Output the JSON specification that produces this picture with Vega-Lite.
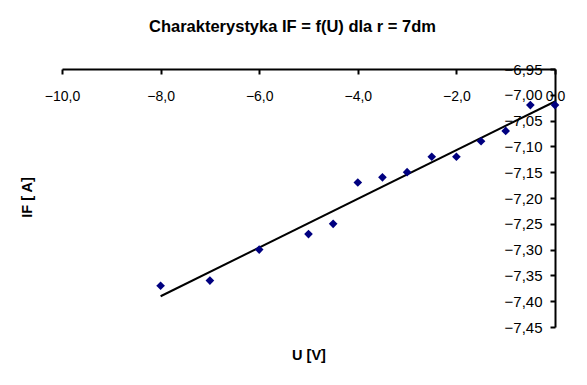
{
  "$schema": "https://vega.github.io/schema/vega-lite/v6.json",
  "width": 493,
  "height": 258,
  "autosize": {"type": "none"},
  "padding": {"left": 62, "top": 69, "right": 32, "bottom": 58},
  "background": "white",
  "title": {
    "text": "Charakterystyka IF = f(U) dla r = 7dm",
    "font": "Liberation Sans",
    "fontSize": 16.5,
    "fontWeight": "bold",
    "color": "#000",
    "anchor": "middle",
    "dx": -16,
    "offset": 27
  },
  "config": {
    "view": {"stroke": null},
    "axis": {
      "grid": false,
      "labelFont": "Liberation Sans",
      "labelColor": "#000",
      "domainColor": "#000",
      "tickColor": "#000",
      "domainWidth": 2,
      "tickWidth": 2,
      "tickSize": 5,
      "labelFlush": false,
      "labelBound": false,
      "labelOverlap": false,
      "titleFont": "Liberation Sans",
      "titleFontSize": 14.5,
      "titleFontWeight": "bold",
      "titleColor": "#000"
    }
  },
  "data": {
    "values": [
      {"U": -8, "IF": -7.37},
      {"U": -7, "IF": -7.36},
      {"U": -6, "IF": -7.30},
      {"U": -5, "IF": -7.27},
      {"U": -4.5, "IF": -7.25},
      {"U": -4, "IF": -7.17},
      {"U": -3.5, "IF": -7.16},
      {"U": -3, "IF": -7.15},
      {"U": -2.5, "IF": -7.12},
      {"U": -2, "IF": -7.12},
      {"U": -1.5, "IF": -7.09},
      {"U": -1, "IF": -7.07},
      {"U": -0.5, "IF": -7.02},
      {"U": 0, "IF": -7.02}
    ]
  },
  "encoding": {
    "x": {
      "field": "U",
      "type": "quantitative",
      "scale": {"domain": [-10, 0], "nice": false, "zero": false},
      "axis": {
        "orient": "bottom",
        "offset": -258,
        "values": [-10, -8, -6, -4, -2, 0],
        "labelExpr": "replace(format(datum.value, '.1f'), '.', ',')",
        "labelFontSize": 14,
        "labelPadding": 15,
        "labelOverlap": false,
        "title": "U [V]",
        "titleY": 290,
        "titleBaseline": "alphabetic"
      }
    },
    "y": {
      "field": "IF",
      "type": "quantitative",
      "scale": {"domain": [-7.45, -6.95], "nice": false, "zero": false},
      "axis": {
        "orient": "left",
        "offset": -493,
        "values": [-6.95, -7.0, -7.05, -7.1, -7.15, -7.2, -7.25, -7.3, -7.35, -7.4, -7.45],
        "tickCount": 11,
        "labelExpr": "replace(format(datum.value, '.2f'), '.', ',')",
        "labelFontSize": 15,
        "labelPadding": 8,
        "labelOverlap": false,
        "title": "IF [ A]",
        "titleX": -521,
        "titleY": 128,
        "titleAngle": -90,
        "titleBaseline": "bottom"
      }
    }
  },
  "layer": [
    {
      "transform": [{"regression": "IF", "on": "U", "extent": [-8, 0]}],
      "mark": {"type": "line", "color": "#000", "strokeWidth": 2}
    },
    {
      "mark": {"type": "point", "shape": "diamond", "filled": true, "color": "#000080", "size": 75, "opacity": 1}
    }
  ]
}
